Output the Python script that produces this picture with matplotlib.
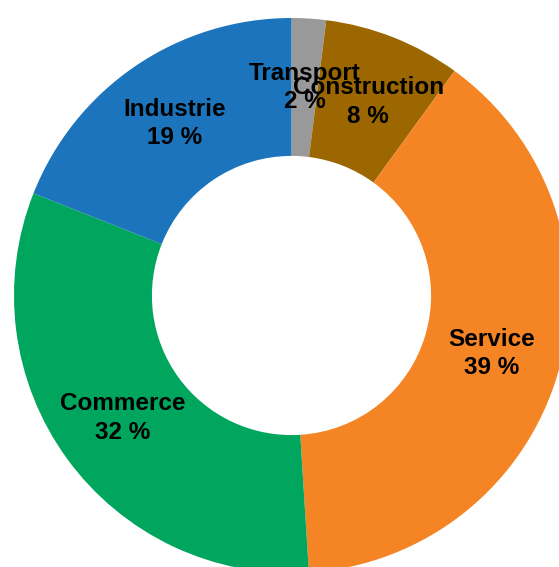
import matplotlib
matplotlib.use('Agg')
import matplotlib.pyplot as plt

# 数据
categories = ['Transport', 'Construction', 'Service', 'Commerce', 'Industrie']
values = [2, 8, 39, 32, 19]
colors = ['#999999', '#9c6700', '#f48424', '#00a65d', '#1c75bc']

plt.rcParams['font.family'] = ['Liberation Sans', 'DejaVu Sans']

W, H = 559, 567
fig = plt.figure(figsize=(W / 100, H / 100), dpi=100)
ax = fig.add_axes([0, 0, 1, 1])

# 环形图（像素坐标）
cx, cy = 291.5, H - 295.5
radius = 277.5
labels = [f'{c}\n{v} %' for c, v in zip(categories, values)]

wedges, texts = ax.pie(
    values,
    labels=labels,
    colors=colors,
    startangle=90,
    counterclock=False,
    radius=radius,
    center=(cx, cy),
    labeldistance=0.75,
    wedgeprops=dict(width=radius * 0.497, linewidth=0),
    textprops=dict(fontsize=17.5, fontweight='bold', color='black'),
)
for t in texts:
    t.set_horizontalalignment('center')
    t.set_verticalalignment('center')
    t.set_linespacing(1.3)

ax.set_xlim(0, W)
ax.set_ylim(0, H)
ax.set_aspect('equal')
ax.axis('off')

fig.savefig('out.png', dpi=100)
